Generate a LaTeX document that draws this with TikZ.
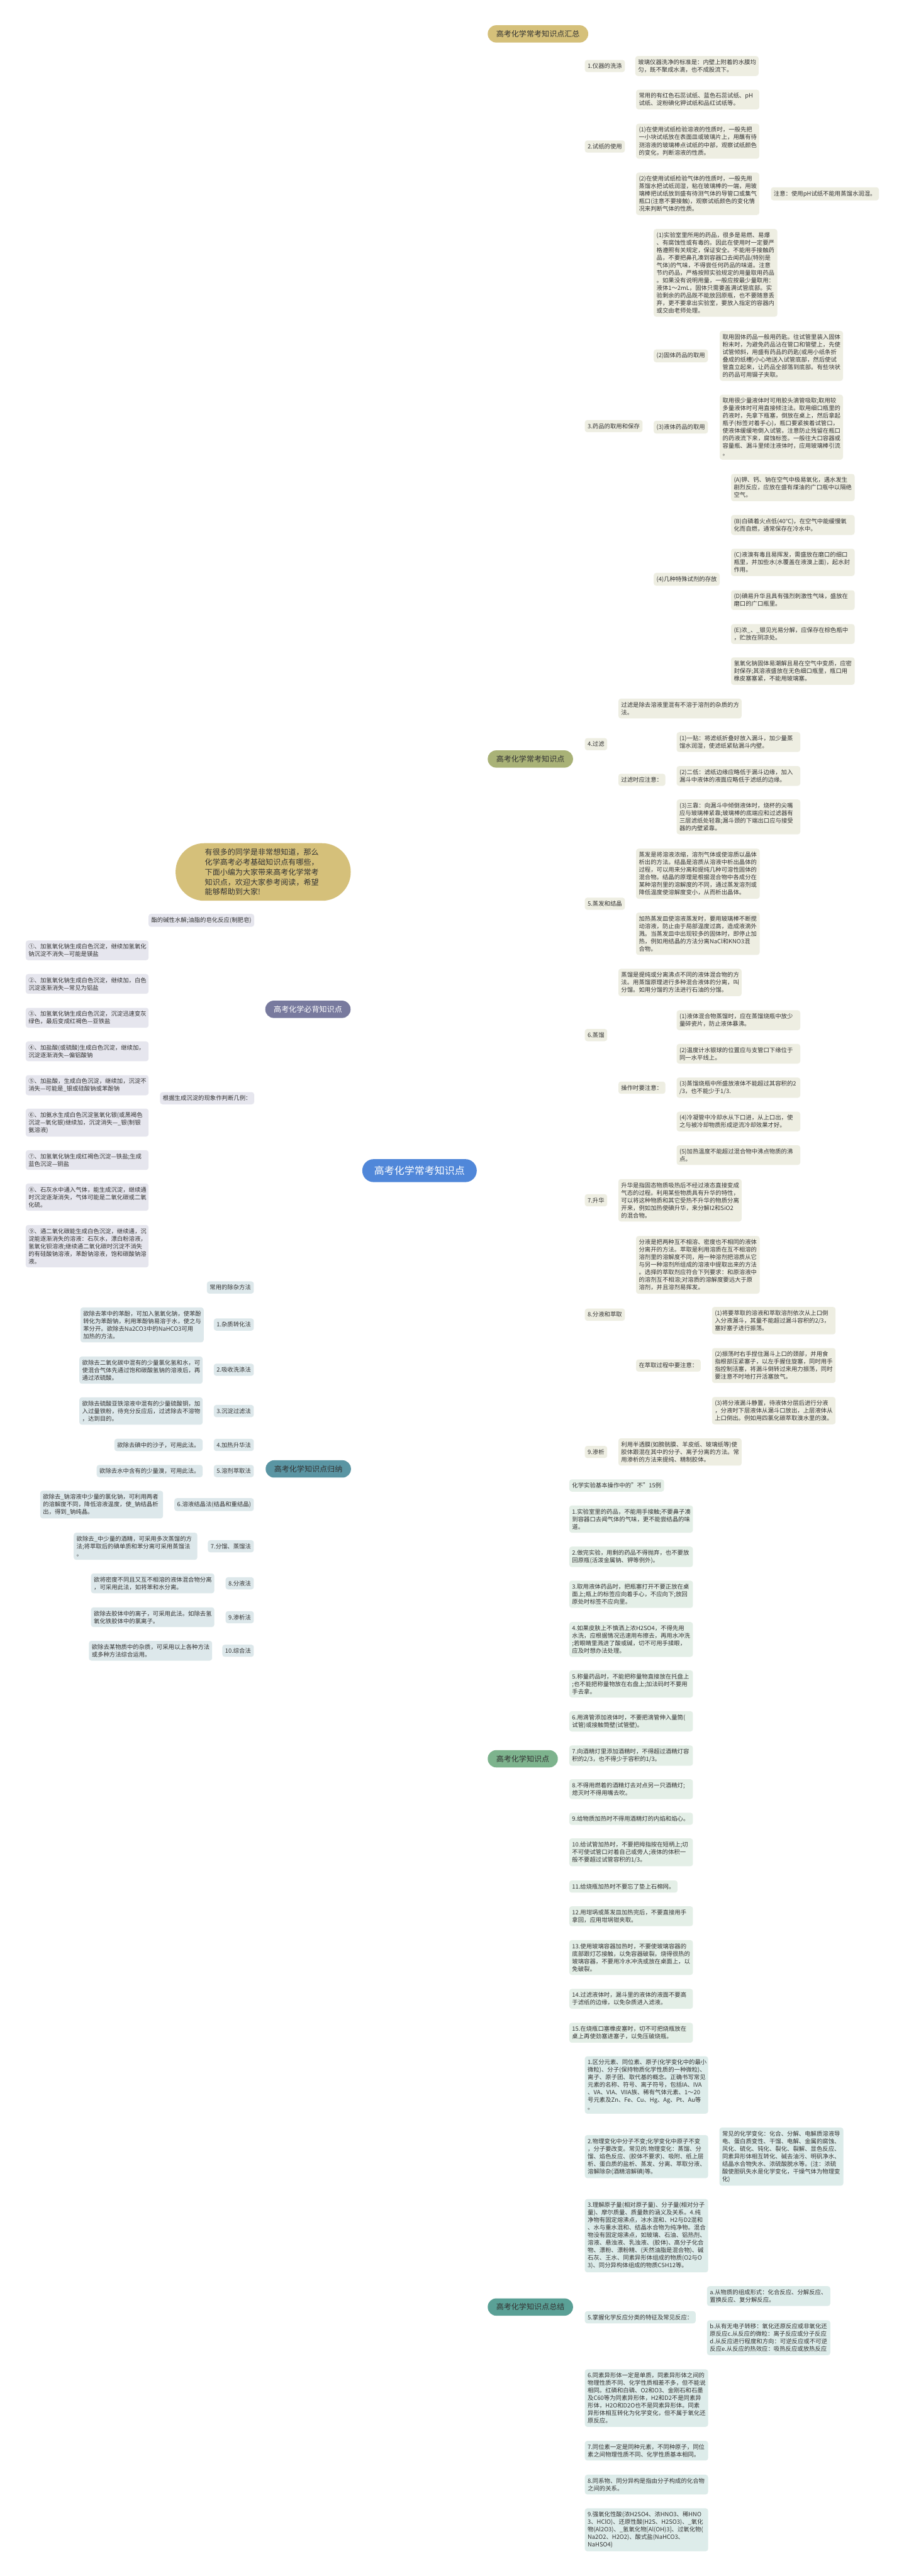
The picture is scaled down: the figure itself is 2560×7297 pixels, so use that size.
\documentclass[tikz,border=0pt]{standalone}
\usepackage{fontspec}
\setmainfont{Noto Sans CJK SC}
\usetikzlibrary{calc}
\pgfdeclarelayer{bg}
\pgfsetlayers{bg,main}
\hyphenpenalty=10000 \exhyphenpenalty=10000
\definecolor{rootc}{HTML}{5087D9}
\definecolor{hzc}{HTML}{D5C07A}
\definecolor{ckc}{HTML}{A9B277}
\definecolor{ckl}{HTML}{A4AD6E}
\definecolor{ckf}{HTML}{EEEEE2}
\definecolor{bbc}{HTML}{787A9E}
\definecolor{bbl}{HTML}{6F7196}
\definecolor{bbf}{HTML}{E6E6EE}
\definecolor{gnc}{HTML}{5A95A3}
\definecolor{gnl}{HTML}{4F8B99}
\definecolor{gnf}{HTML}{DDE8EB}
\definecolor{zsc}{HTML}{7DB38D}
\definecolor{zsl}{HTML}{6BA67C}
\definecolor{zsf}{HTML}{E4EFE7}
\definecolor{zjc}{HTML}{5AA096}
\definecolor{zjl}{HTML}{4E968C}
\definecolor{zjf}{HTML}{DDECEA}
\definecolor{txt}{HTML}{333333}
\newcommand\fsA{\fontsize{16.7pt}{21.4pt}\selectfont}
\newcommand\fsT{\fontsize{21.5pt}{28.3pt}\selectfont}
\newcommand\rlk[4]{\draw[#1] (#2.east) -- (#2.east -| #3) |- (#4.west);}
\newcommand\llk[4]{\draw[#1] (#2.west) -- (#2.west -| #3) |- (#4.east);}
\tikzset{
 base/.style={rounded corners=7pt, inner xsep=8pt, inner ysep=9.5pt, align=left, font=\fsA, text=txt},
 okb/.style={base, fill=ckf, anchor=west},
 pvb/.style={base, fill=bbf, anchor=east},
 tlb/.style={base, fill=gnf, anchor=east},
 gnb/.style={base, fill=zsf, anchor=west},
 zjb/.style={base, fill=zjf, anchor=west},
 ttl/.style={rounded corners=24pt, inner xsep=24pt, inner ysep=14.5pt, font=\fsT, text=txt},
 lnk/.style={line width=2.6pt, rounded corners=9pt},
 okl/.style={lnk, draw=ckl}, pvl/.style={lnk, draw=bbl}, tll/.style={lnk, draw=gnl},
 gnl/.style={lnk, draw=zsl}, zjl/.style={lnk, draw=zjl},
 rootl/.style={line width=3pt}
}
\begin{document}
\begin{tikzpicture}[x=1pt,y=-1pt]
\useasboundingbox[fill=white] (0,0) rectangle (2560,7297);

% ---------- root ----------
\node[rounded corners=32pt, fill=rootc, text=white, font=\fontsize{28.5pt}{32pt}\selectfont, minimum width=324pt, minimum height=65pt] (root) at (1188,3316) {高考化学常考知识点};

% ---------- titles ----------
\node[ttl, fill=hzc, anchor=west] (hz) at (1381,96) {高考化学常考知识点汇总};
\node[ttl, fill=ckc, anchor=west] (ck) at (1381,2150) {高考化学常考知识点};
\node[ttl, fill=zsc, anchor=west] (zs) at (1381,4982) {高考化学知识点};
\node[ttl, fill=zjc, anchor=west] (zj) at (1381,6535) {高考化学知识点总结};
\node[ttl, fill=bbc, text=white, anchor=east] (bb) at (993,2859) {高考化学必背知识点};
\node[ttl, fill=gnc, anchor=east] (gn) at (994,4161) {高考化学知识点归纳};
\node[rounded corners=81pt, fill=hzc, text=txt, font=\fsT, align=left, text width=330pt, minimum width=496pt, minimum height=163pt, anchor=west] (intro) at (497,2470) {有很多的同学是非常想知道，那么\\化学高考必考基础知识点有哪些，\\下面小编为大家带来高考化学常考\\知识点，欢迎大家参考阅读，希望\\能够帮助到大家!};

% ---------- 常考知识点 branch ----------
\coordinate (sK) at (1643,0);
\node[okb] (k1) at (1656,187) {1.仪器的洗涤};
\node[okb, text width=333pt] (k1a) at (1799,187) {玻璃仪器洗净的标准是：内壁上附着的水膜均\\匀，既不聚成水滴，也不成股流下。};
\node[okb] (k2) at (1656,415) {2.试纸的使用};
\coordinate (s2) at (1786,0);
\node[okb, text width=333pt] (k2a) at (1801,282) {常用的有红色石蕊试纸、蓝色石蕊试纸、pH\\试纸、淀粉碘化钾试纸和品红试纸等。};
\node[okb, text width=333pt] (k2b) at (1801,400) {(1)在使用试纸检验溶液的性质时，一般先把\\一小块试纸放在表面皿或玻璃片上，用蘸有待\\测溶液的玻璃棒点试纸的中部，观察试纸颜色\\的变化，判断溶液的性质。};
\node[okb, text width=333pt] (k2c) at (1801,549) {(2)在使用试纸检验气体的性质时，一般先用\\蒸馏水把试纸润湿，粘在玻璃棒的一端，用玻\\璃棒把试纸放到盛有待测气体的导管口或集气\\瓶口(注意不要接触)，观察试纸颜色的变化情\\况来判断气体的性质。};
\node[okb] (k2n) at (2183,549) {注意：使用pH试纸不能用蒸馏水润湿。};
\node[okb] (k3) at (1656,1207) {3.药品的取用和保存};
\coordinate (s3) at (1836,0);
\node[okb, text width=334pt] (k3a) at (1851,773) {(1)实验室里所用的药品，很多是易燃、易爆\\、有腐蚀性或有毒的。因此在使用时一定要严\\格遵照有关规定，保证安全。不能用手接触药\\品，不要把鼻孔凑到容器口去闻药品(特别是\\气体)的气味，不得尝任何药品的味道。注意\\节约药品，严格按照实验规定的用量取用药品\\。如果没有说明用量，一般应按最少量取用：\\液体1～2mL，固体只需要盖满试管底部。实\\验剩余的药品既不能放回原瓶，也不要随意丢\\弃，更不要拿出实验室，要放入指定的容器内\\或交由老师处理。};
\node[okb] (k3b) at (1851,1008) {(2)固体药品的取用};
\node[okb, text width=333pt] (k3b1) at (2038,1008) {取用固体药品一般用药匙。往试管里装入固体\\粉末时，为避免药品沾在管口和管壁上，先使\\试管倾斜，用盛有药品的药匙(或用小纸条折\\叠成的纸槽)小心地送入试管底部，然后使试\\管直立起来，让药品全部落到底部。有些块状\\的药品可用镊子夹取。};
\node[okb] (k3c) at (1851,1210) {(3)液体药品的取用};
\node[okb, text width=333pt] (k3c1) at (2038,1210) {取用很少量液体时可用胶头滴管吸取;取用较\\多量液体时可用直接倾注法。取用细口瓶里的\\药液时，先拿下瓶塞，倒放在桌上，然后拿起\\瓶子(标签对着手心)，瓶口要紧挨着试管口，\\使液体缓缓地倒入试管。注意防止残留在瓶口\\的药液流下来，腐蚀标签。一般往大口容器或\\容量瓶、漏斗里倾注液体时，应用玻璃棒引流\\。};
\node[okb] (k3d) at (1851,1641) {(4)几种特殊试剂的存放};
\coordinate (s3d) at (2056,0);
\node[okb, text width=334pt] (k3dA) at (2070,1381) {(A)钾、钙、钠在空气中极易氧化，遇水发生\\剧烈反应，应放在盛有煤油的广口瓶中以隔绝\\空气。};
\node[okb, text width=334pt] (k3dB) at (2070,1487) {(B)白磷着火点低(40℃)，在空气中能缓慢氧\\化而自燃，通常保存在冷水中。};
\node[okb, text width=334pt] (k3dC) at (2070,1593) {(C)液溴有毒且易挥发，需盛放在磨口的细口\\瓶里，并加些水(水覆盖在液溴上面)，起水封\\作用。};
\node[okb, text width=334pt] (k3dD) at (2070,1700) {(D)碘易升华且具有强烈刺激性气味，盛放在\\磨口的广口瓶里。};
\node[okb, text width=334pt] (k3dE) at (2070,1796) {(E)浓\_、\_银见光易分解，应保存在棕色瓶中\\，贮放在阴凉处。};
\node[okb, text width=334pt] (k3dF) at (2070,1901) {氢氧化钠固体易潮解且易在空气中变质，应密\\封保存;其溶液盛放在无色细口瓶里，瓶口用\\橡皮塞塞紧，不能用玻璃塞。};
\node[okb] (k4) at (1656,2108) {4.过滤};
\coordinate (s4) at (1735,0);
\node[okb, text width=333pt] (k4a) at (1751,2007) {过滤是除去溶液里混有不溶于溶剂的杂质的方\\法。};
\node[okb] (k4b) at (1751,2209) {过滤时应注意：};
\coordinate (s4b) at (1899,0);
\node[okb, text width=334pt] (k4b1) at (1916,2102) {(1)一贴：将滤纸折叠好放入漏斗，加少量蒸\\馏水润湿，使滤纸紧贴漏斗内壁。};
\node[okb, text width=334pt] (k4b2) at (1916,2198) {(2)二低：滤纸边缘应略低于漏斗边缘，加入\\漏斗中液体的液面应略低于滤纸的边缘。};
\node[okb, text width=334pt] (k4b3) at (1916,2314) {(3)三靠：向漏斗中倾倒液体时，烧杯的尖嘴\\应与玻璃棒紧靠;玻璃棒的底端应和过滤器有\\三层滤纸处轻靠;漏斗颈的下端出口应与接受\\器的内壁紧靠。};
\node[okb] (k5) at (1656,2560) {5.蒸发和结晶};
\node[okb, text width=334pt] (k5a) at (1801,2475) {蒸发是将溶液浓缩，溶剂气体或使溶质以晶体\\析出的方法。结晶是溶质从溶液中析出晶体的\\过程，可以用来分离和提纯几种可溶性固体的\\混合物。结晶的原理是根据混合物中各成分在\\某种溶剂里的溶解度的不同，通过蒸发溶剂或\\降低温度使溶解度变小，从而析出晶体。};
\node[okb, text width=334pt] (k5b) at (1801,2645) {加热蒸发皿使溶液蒸发时，要用玻璃棒不断搅\\动溶液，防止由于局部温度过高，造成液滴外\\溅。当蒸发皿中出现较多的固体时，即停止加\\热，例如用结晶的方法分离NaCl和KNO3混\\合物。};
\node[okb] (k6) at (1656,2932) {6.蒸馏};
\node[okb, text width=333pt] (k6a) at (1751,2783) {蒸馏是提纯或分离沸点不同的液体混合物的方\\法。用蒸馏原理进行多种混合液体的分离，叫\\分馏。如用分馏的方法进行石油的分馏。};
\node[okb] (k6b) at (1751,3081) {操作时要注意：};
\node[okb, text width=334pt] (k6b1) at (1916,2890) {(1)液体混合物蒸馏时，应在蒸馏烧瓶中放少\\量碎瓷片，防止液体暴沸。};
\node[okb, text width=334pt] (k6b2) at (1916,2985) {(2)温度计水银球的位置应与支管口下缘位于\\同一水平线上。};
\node[okb, text width=334pt] (k6b3) at (1916,3081) {(3)蒸馏烧瓶中所盛放液体不能超过其容积的2\\/3，也不能少于1/3.};
\node[okb, text width=334pt] (k6b4) at (1916,3177) {(4)冷凝管中冷却水从下口进，从上口出，使\\之与被冷却物质形成逆流冷却效果才好。};
\node[okb, text width=334pt] (k6b5) at (1916,3272) {(5)加热温度不能超过混合物中沸点物质的沸\\点。};
\node[okb] (k7) at (1656,3400) {7.升华};
\node[okb, text width=333pt] (k7a) at (1751,3400) {升华是指固态物质吸热后不经过液态直接变成\\气态的过程。利用某些物质具有升华的特性，\\可以将这种物质和其它受热不升华的物质分离\\开来，例如加热使碘升华，来分解I2和SiO2\\的混合物。};
\node[okb] (k8) at (1656,3724) {8.分液和萃取};
\node[okb, text width=334pt] (k8a) at (1801,3583) {分液是把两种互不相溶、密度也不相同的液体\\分离开的方法。萃取是利用溶质在互不相溶的\\溶剂里的溶解度不同，用一种溶剂把溶质从它\\与另一种溶剂所组成的溶液中提取出来的方法\\。选择的萃取剂应符合下列要求：和原溶液中\\的溶剂互不相溶;对溶质的溶解度要远大于原\\溶剂，并且溶剂易挥发。};
\node[okb] (k8b) at (1801,3868) {在萃取过程中要注意：};
\coordinate (s8b) at (2002,0);
\node[okb, text width=334pt] (k8b1) at (2016,3741) {(1)将要萃取的溶液和萃取溶剂依次从上口倒\\入分液漏斗，其量不能超过漏斗容积的2/3，\\塞好塞子进行振荡。};
\node[okb, text width=334pt] (k8b2) at (2016,3868) {(2)振荡时右手捏住漏斗上口的颈部，并用食\\指根部压紧塞子，以左手握住旋塞，同时用手\\指控制活塞，将漏斗倒转过来用力振荡，同时\\要注意不时地打开活塞放气。};
\node[okb, text width=334pt] (k8b3) at (2016,3996) {(3)将分液漏斗静置，待液体分层后进行分液\\，分液时下层液体从漏斗口放出，上层液体从\\上口倒出。例如用四氯化碳萃取溴水里的溴。};
\node[okb] (k9) at (1656,4113) {9.渗析};
\node[okb, text width=333pt] (k9a) at (1751,4113) {利用半透膜(如膀胱膜、羊皮纸、玻璃纸等)使\\胶体跟混在其中的分子、离子分离的方法。常\\用渗析的方法来提纯、精制胶体。};

% ---------- 知识点 branch ----------
\coordinate (sZ) at (1598,0);
\node[gnb] (z0) at (1612,4208) {化学实验基本操作中的"不"15例};
\node[gnb, text width=334pt] (z1) at (1612,4303) {1.实验室里的药品，不能用手接触;不要鼻子凑\\到容器口去闻气体的气味，更不能尝结晶的味\\道。};
\node[gnb, text width=334pt] (z2) at (1612,4410) {2.做完实验，用剩的药品不得抛弃，也不要放\\回原瓶(活泼金属钠、钾等例外)。};
\node[gnb, text width=334pt] (z3) at (1612,4516) {3.取用液体药品时，把瓶塞打开不要正放在桌\\面上;瓶上的标签应向着手心，不应向下;放回\\原处时标签不应向里。};
\node[gnb, text width=334pt] (z4) at (1612,4644) {4.如果皮肤上不慎洒上浓H2SO4，不得先用\\水洗，应根据情况迅速用布擦去，再用水冲洗\\;若眼睛里溅进了酸或碱，切不可用手揉眼，\\应及时想办法处理。};
\node[gnb, text width=334pt] (z5) at (1612,4770) {5.称量药品时，不能把称量物直接放在托盘上\\;也不能把称量物放在右盘上;加法码时不要用\\手去拿。};
\node[gnb, text width=334pt] (z6) at (1612,4876) {6.用滴管添加液体时，不要把滴管伸入量筒(\\试管)或接触筒壁(试管壁)。};
\node[gnb, text width=334pt] (z7) at (1612,4973) {7.向酒精灯里添加酒精时，不得超过酒精灯容\\积的2/3，也不得少于容积的1/3。};
\node[gnb, text width=334pt] (z8) at (1612,5068) {8.不得用燃着的酒精灯去对点另一只酒精灯;\\熄灭时不得用嘴去吹。};
\node[gnb, text width=334pt] (z9) at (1612,5152) {9.给物质加热时不得用酒精灯的内焰和焰心。};
\node[gnb, text width=334pt] (z10) at (1612,5247) {10.给试管加热时，不要把拇指按在短柄上;切\\不可使试管口对着自己或旁人;液体的体积一\\般不要超过试管容积的1/3。};
\node[gnb] (z11) at (1612,5344) {11.给烧瓶加热时不要忘了垫上石棉网。};
\node[gnb, text width=334pt] (z12) at (1612,5428) {12.用坩埚或蒸发皿加热完后，不要直接用手\\拿回，应用坩埚钳夹取。};
\node[gnb, text width=334pt] (z13) at (1612,5545) {13.使用玻璃容器加热时，不要使玻璃容器的\\底部跟灯芯接触，以免容器破裂。烧得很热的\\玻璃容器，不要用冷水冲洗或放在桌面上，以\\免破裂。};
\node[gnb, text width=334pt] (z14) at (1612,5662) {14.过滤液体时，漏斗里的液体的液面不要高\\于滤纸的边缘，以免杂质进入滤液。};
\node[gnb, text width=334pt] (z15) at (1612,5758) {15.在烧瓶口塞橡皮塞时，切不可把烧瓶放在\\桌上再使劲塞进塞子，以免压破烧瓶。};

% ---------- 总结 branch ----------
\coordinate (sJ) at (1643,0);
\node[zjb, text width=333pt] (j1) at (1656,5906) {1.区分元素、同位素、原子(化学变化中的最小\\微粒)、分子(保持物质化学性质的一种微粒)、\\离子、原子团、取代基的概念。正确书写常见\\元素的名称、符号、离子符号，包括IA、IVA\\、VA、VIA、VIIA族、稀有气体元素、1～20\\号元素及Zn、Fe、Cu、Hg、Ag、Pt、Au等\\。};
\node[zjb, text width=333pt] (j2) at (1656,6109) {2.物理变化中分子不变;化学变化中原子不变\\，分子要改变。常见的.物理变化：蒸馏、分\\馏、焰色反应、(胶体不要求)、吸附、纸上层\\析、蛋白质的盐析、蒸发、分离、萃取分液、\\溶解除杂(酒精溶解碘)等。};
\node[zjb, text width=335pt] (j2n) at (2037,6109) {常见的化学变化：化合、分解、电解质溶液导\\电、蛋白质变性、干馏、电解、金属的腐蚀、\\风化、硫化、钝化、裂化、裂解、显色反应、\\同素异形体相互转化、碱去油污、明矾净水、\\结晶水合物失水、浓硫酸脱水等。(注：浓硫\\酸使胆矾失水是化学变化，干燥气体为物理变\\化)};
\node[zjb, text width=333pt] (j3) at (1656,6333) {3.理解原子量(相对原子量)、分子量(相对分子\\量)、摩尔质量、质量数的涵义及关系。4.纯\\净物有固定熔沸点，冰水混和、H2与D2混和\\、水与重水混和、结晶水合物为纯净物。混合\\物没有固定熔沸点，如玻璃、石油、铝热剂、\\溶液、悬浊液、乳浊液、(胶体)、高分子化合\\物、漂粉、漂粉精、(天然油脂是混合物)、碱\\石灰、王水、同素异形体组成的物质(O2与O\\3)、同分异构体组成的物质C5H12等。};
\node[zjb] (j5) at (1656,6564) {5.掌握化学反应分类的特征及常见反应：};
\coordinate (sJ5) at (1987,0);
\node[zjb, text width=333pt] (j5a) at (2002,6504) {a.从物质的组成形式：化合反应、分解反应、\\置换反应、复分解反应。};
\node[zjb, text width=333pt] (j5b) at (2002,6622) {b.从有无电子转移：氧化还原反应或非氧化还\\原反应c.从反应的微粒：离子反应或分子反应\\d.从反应进行程度和方向：可逆反应或不可逆\\反应e.从反应的热效应：吸热反应或放热反应};
\node[zjb, text width=333pt] (j6) at (1656,6793) {6.同素异形体一定是单质，同素异形体之间的\\物理性质不同、化学性质相差不多，但不能说\\相同。红磷和白磷、O2和O3、金刚石和石墨\\及C60等为同素异形体，H2和D2不是同素异\\形体，H2O和D2O也不是同素异形体。同素\\异形体相互转化为化学变化，但不属于氧化还\\原反应。};
\node[zjb, text width=333pt] (j7) at (1656,6942) {7.同位素一定是同种元素，不同种原子，同位\\素之间物理性质不同、化学性质基本相同。};
\node[zjb, text width=333pt] (j8) at (1656,7038) {8.同系物、同分异构是指由分子构成的化合物\\之间的关系。};
\node[zjb, text width=333pt] (j9) at (1656,7166) {9.强氧化性酸(浓H2SO4、浓HNO3、稀HNO\\3、HClO)、还原性酸(H2S、H2SO3)、\_氧化\\物(Al2O3)、\_氢氧化物[Al(OH)3]、过氧化物(\\Na2O2、H2O2)、酸式盐(NaHCO3、\\NaHSO4)};

% ---------- 必背 branch ----------
\coordinate (sB) at (734,0);
\coordinate (sB2) at (436,0);
\node[pvb] (b1) at (720,2607) {酯的碱性水解;油脂的皂化反应(制肥皂)};
\node[pvb] (b2) at (720,3111) {根据生成沉淀的现象作判断几例：};
\node[pvb, text width=332pt] (c1) at (421,2692) {①、加氢氧化钠生成白色沉淀，继续加氢氧化\\钠沉淀不消失—可能是镁盐};
\node[pvb, text width=332pt] (c2) at (421,2787) {②、加氢氧化钠生成白色沉淀，继续加，白色\\沉淀逐渐消失—常见为铝盐};
\node[pvb, text width=332pt] (c3) at (421,2883) {③、加氢氧化钠生成白色沉淀，沉淀迅速变灰\\绿色，最后变成红褐色—亚铁盐};
\node[pvb, text width=332pt] (c4) at (421,2978) {④、加盐酸(或硫酸)生成白色沉淀，继续加，\\沉淀逐渐消失—偏铝酸钠};
\node[pvb, text width=332pt] (c5) at (421,3074) {⑤、加盐酸，生成白色沉淀，继续加，沉淀不\\消失—可能是\_银或硅酸钠或苯酚钠};
\node[pvb, text width=332pt] (c6) at (421,3180) {⑥、加氨水生成白色沉淀氢氧化银(或黑褐色\\沉淀—氧化银)继续加，沉淀消失—\_银(制银\\氨溶液)};
\node[pvb, text width=332pt] (c7) at (421,3286) {⑦、加氢氧化钠生成红褐色沉淀—铁盐;生成\\蓝色沉淀—铜盐};
\node[pvb, text width=332pt] (c8) at (421,3391) {⑧、石灰水中通入气体，能生成沉淀，继续通\\时沉淀逐渐消失，气体可能是二氧化碳或二氧\\化硫。};
\node[pvb, text width=332pt] (c9) at (421,3530) {⑨、通二氧化碳能生成白色沉淀，继续通，沉\\淀能逐渐消失的溶液：石灰水，漂白粉溶液，\\氢氧化钡溶液;继续通二氧化碳时沉淀不消失\\的有硅酸钠溶液，苯酚钠溶液，饱和碳酸钠溶\\液。};

% ---------- 归纳 branch ----------
\coordinate (sG) at (735,0);
\node[tlb] (g0) at (719,3647) {常用的除杂方法};
\node[tlb] (g1) at (719,3752) {1.杂质转化法};
\node[tlb, text width=333pt] (g1t) at (577,3753) {欲除去苯中的苯酚，可加入氢氧化钠，使苯酚\\转化为苯酚钠，利用苯酚钠易溶于水，使之与\\苯分开。欲除去Na2CO3中的NaHCO3可用\\加热的方法。};
\node[tlb] (g2) at (719,3880) {2.吸收洗涤法};
\node[tlb, text width=333pt] (g2t) at (574,3881) {欲除去二氧化碳中混有的少量氯化氢和水，可\\使混合气体先通过饱和碳酸氢钠的溶液后，再\\通过浓硫酸。};
\node[tlb] (g3) at (719,3997) {3.沉淀过滤法};
\node[tlb, text width=333pt] (g3t) at (574,3997) {欲除去硫酸亚铁溶液中混有的少量硫酸铜，加\\入过量铁粉，待充分反应后，过滤除去不溶物\\，达到目的。};
\node[tlb] (g4) at (719,4093) {4.加热升华法};
\node[tlb] (g4t) at (574,4093) {欲除去碘中的沙子，可用此法。};
\node[tlb] (g5) at (719,4167) {5.溶剂萃取法};
\node[tlb] (g5t) at (574,4167) {欲除去水中含有的少量溴，可用此法。};
\node[tlb] (g6) at (719,4262) {6.溶液结晶法(结晶和重结晶)};
\node[tlb, text width=332pt] (g6t) at (462,4262) {欲除去\_钠溶液中少量的氯化钠，可利用两者\\的溶解度不同，降低溶液温度，使\_钠结晶析\\出，得到\_钠纯晶。};
\node[tlb] (g7) at (719,4380) {7.分馏、蒸馏法};
\node[tlb, text width=334pt] (g7t) at (559,4380) {欲除去\_中少量的酒精，可采用多次蒸馏的方\\法;将萃取后的碘单质和苯分离可采用蒸馏法\\。};
\node[tlb] (g8) at (719,4485) {8.分液法};
\node[tlb, text width=333pt] (g8t) at (607,4485) {欲将密度不同且又互不相溶的液体混合物分离\\，可采用此法，如将苯和水分离。};
\node[tlb] (g9) at (719,4581) {9.渗析法};
\node[tlb, text width=333pt] (g9t) at (607,4581) {欲除去胶体中的离子，可采用此法。如除去氢\\氧化铁胶体中的氯离子。};
\node[tlb] (g10) at (719,4676) {10.综合法};
\node[tlb, text width=333pt] (g10t) at (601,4676) {欲除去某物质中的杂质，可采用以上各种方法\\或多种方法综合运用。};

% ---------- connectors ----------
\begin{pgfonlayer}{bg}
\draw[rootl, draw=hzc] (root.center) .. controls (1188,1170) and (1253,96) .. (hz.west);
\draw[rootl, draw=ckl] (root.center) .. controls (1188,2539) and (1253,2150) .. (ck.west);
\draw[rootl, draw=zsl] (root.center) .. controls (1188,4427) and (1253,4982) .. (zs.west);
\draw[rootl, draw=zjl] (root.center) .. controls (1188,5462) and (1253,6535) .. (zj.west);
\draw[rootl, draw=hzc] (root.center) .. controls (1188,2752) and (1124,2470) .. (intro.east);
\draw[rootl, draw=bbl] (root.center) .. controls (1188,3012) and (1124,2859) .. (bb.east);
\draw[rootl, draw=gnl] (root.center) .. controls (1188,3880) and (1124,4161) .. (gn.east);
% olive
\foreach \c in {k1,k2,k3,k4,k5,k6,k7,k8,k9} {\rlk{okl}{ck}{sK}{\c}}
\draw[okl] (k1.east) -- (k1a.west);
\foreach \c in {k2a,k2b,k2c} {\rlk{okl}{k2}{s2}{\c}}
\draw[okl] (k2c.east) -- (k2n.west);
\foreach \c in {k3a,k3b,k3c,k3d} {\rlk{okl}{k3}{s3}{\c}}
\draw[okl] (k3b.east) -- (k3b1.west);
\draw[okl] (k3c.east) -- (k3c1.west);
\foreach \c in {k3dA,k3dB,k3dC,k3dD,k3dE,k3dF} {\rlk{okl}{k3d}{s3d}{\c}}
\foreach \c in {k4a,k4b} {\rlk{okl}{k4}{s4}{\c}}
\foreach \c in {k4b1,k4b2,k4b3} {\rlk{okl}{k4b}{s4b}{\c}}
\foreach \c in {k5a,k5b} {\rlk{okl}{k5}{s2}{\c}}
\foreach \c in {k6a,k6b} {\rlk{okl}{k6}{s4}{\c}}
\foreach \c in {k6b1,k6b2,k6b3,k6b4,k6b5} {\rlk{okl}{k6b}{s4b}{\c}}
\draw[okl] (k7.east) -- (k7a.west);
\foreach \c in {k8a,k8b} {\rlk{okl}{k8}{s2}{\c}}
\foreach \c in {k8b1,k8b2,k8b3} {\rlk{okl}{k8b}{s8b}{\c}}
\draw[okl] (k9.east) -- (k9a.west);
% green
\foreach \c in {z0,z1,z2,z3,z4,z5,z6,z7,z8,z9,z10,z11,z12,z13,z14,z15} {\rlk{gnl}{zs}{sZ}{\c}}
% teal summary
\foreach \c in {j1,j2,j3,j5,j6,j7,j8,j9} {\rlk{zjl}{zj}{sJ}{\c}}
\draw[zjl] (j2.east) -- (j2n.west);
\foreach \c in {j5a,j5b} {\rlk{zjl}{j5}{sJ5}{\c}}
% purple
\foreach \c in {b1,b2} {\llk{pvl}{bb}{sB}{\c}}
\foreach \c in {c1,c2,c3,c4,c5,c6,c7,c8,c9} {\llk{pvl}{b2}{sB2}{\c}}
% teal left
\foreach \c in {g0,g1,g2,g3,g4,g5,g6,g7,g8,g9,g10} {\llk{tll}{gn}{sG}{\c}}
\foreach \c in {g1,g2,g3,g4,g5,g6,g7,g8,g9,g10} {\draw[tll] (\c.west) -- (\c t.east);}
\end{pgfonlayer}
\end{tikzpicture}
\end{document}
